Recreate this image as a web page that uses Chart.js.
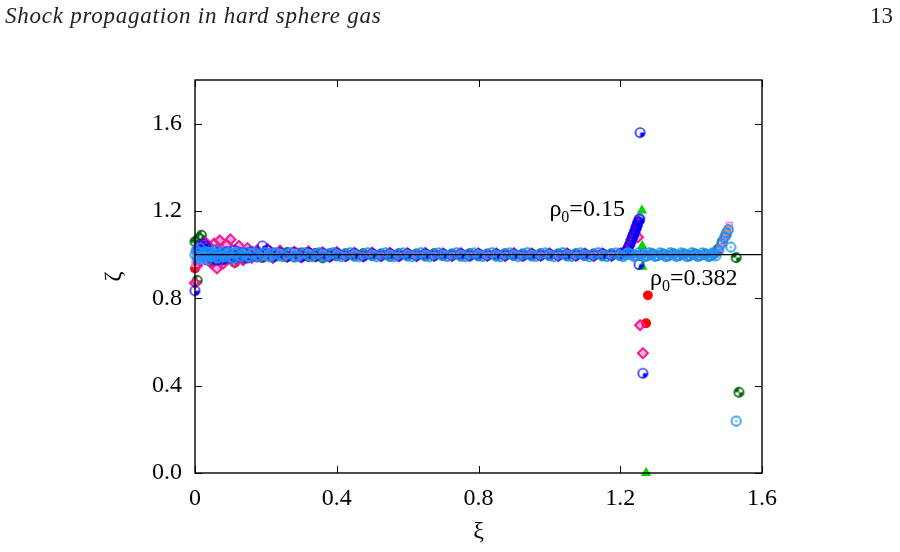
<!DOCTYPE html>
<html><head><meta charset="utf-8">
<script src="https://cdn.jsdelivr.net/npm/chart.js@4"></script>
<style>
html,body{margin:0;padding:0;background:#fff;}
#wrap{position:relative;width:900px;height:552px;overflow:hidden;}
canvas{position:absolute;left:0;top:0;}
#hdr{position:absolute;left:5px;top:3px;font-family:'Liberation Serif',serif;font-style:italic;font-size:23px;letter-spacing:0.75px;color:#222;white-space:nowrap;}
#pg{position:absolute;right:7px;top:3px;font-family:'Liberation Serif',serif;font-size:23px;color:#222;}
</style></head><body>
<div id="wrap"><canvas id="c" width="900" height="552"></canvas><div id="hdr">Shock propagation in hard sphere gas</div><div id="pg">13</div></div>
<script>
// ---------- data ----------
const xTickLabels = ['0','0.4','0.8','1.2','1.6'];
const xTickValues = [0,0.4,0.8,1.2,1.6];
const yTickLabels = ['0.0','0.4','0.8','1.2','1.6'];
const yTickValues = [0,0.4,0.8,1.2,1.6];

const xBand = [0.000,0.006,0.012,0.018,0.024,0.030,0.038,0.046,0.054,0.062,0.070,0.080,0.090,0.100,0.112,0.124,
 0.136,0.148,0.160,0.175,0.190,0.205,0.220,0.240,0.260,0.280,0.300,0.320,0.340,0.360,0.380,0.400,
 0.425,0.450,0.475,0.500,0.525,0.550,0.575,0.600,0.625,0.650,0.675,0.700,0.725,0.750,0.775,0.800,
 0.825,0.850,0.875,0.900,0.925,0.950,0.975,1.000,1.025,1.050,1.075,1.100,1.125,1.150,1.175,1.200,
 1.215];

// rho0 = 0.15 runs
const yBlue15 = [0.835,1.020,1.045,1.030,1.050,1.040,1.010,0.985,1.020,0.975,1.010,0.980,1.015,0.985,1.020,0.990,
 1.010,0.985,1.015,0.990,1.040,1.020,0.990,1.010,0.992,1.012,0.990,1.010,0.993,1.008,0.992,1.008,
 0.994,1.007,0.993,1.006,0.995,1.006,0.994,1.005,0.995,1.005,0.995,1.004,0.996,1.005,0.995,1.004,
 0.996,1.004,0.996,1.004,0.995,1.004,0.996,1.004,0.996,1.004,0.996,1.004,0.996,1.005,0.996,1.005,
 1.015];
const xSpkBlue15 = [1.222,1.226,1.230,1.233,1.236,1.238,1.241,1.243,1.245,1.247,1.249,1.251,1.253,1.255,1.256,1.253,1.264];
const ySpkBlue15 = [1.030,1.045,1.060,1.075,1.085,1.095,1.105,1.115,1.125,1.135,1.145,1.152,1.160,1.165,1.559,0.955,0.457];

const yRed15 = [0.937,0.960,1.020,0.990,1.030,0.975,1.015,0.965,1.000,1.025,0.985,1.010,0.975,1.005,0.990,1.015,
 0.980,1.005,0.992,1.010,0.985,1.005,0.995,1.012,0.988,1.004,1.010,0.990,1.008,0.994,1.006,0.992,
 1.005,0.994,1.006,0.995,1.004,0.993,1.005,0.996,1.004,0.995,1.006,0.995,1.004,0.996,1.005,0.994,
 1.004,0.996,1.005,0.995,1.004,0.996,1.004,0.995,1.005,0.996,1.004,0.995,1.005,0.996,1.004,0.997,
 1.012];
const xSpkRed15 = [1.224,1.236,1.248,1.278,1.273];
const ySpkRed15 = [1.040,1.090,1.140,0.814,0.686];

const yPink15 = [0.870,0.950,1.030,1.045,0.990,1.055,1.040,0.960,1.050,0.937,1.065,0.960,1.045,1.070,0.965,1.040,
 0.975,1.030,0.985,1.020,1.000,1.025,0.985,1.018,0.990,1.012,0.988,1.015,0.992,1.010,0.990,1.012,
 0.993,1.008,0.992,1.009,0.994,1.008,0.993,1.007,0.994,1.008,0.995,1.006,0.994,1.007,0.995,1.006,
 0.995,1.006,0.994,1.007,0.995,1.006,0.995,1.006,0.994,1.006,0.995,1.005,0.994,1.006,0.995,1.006,
 1.020];
const xSpkPink15 = [1.225,1.229,1.232,1.236,1.240,1.243,1.246,1.250,1.252,1.256,1.264];
const ySpkPink15 = [1.040,1.055,1.070,1.085,1.100,1.115,1.130,1.080,1.150,0.677,0.549];

const yGreen15 = [1.066,0.990,1.010,0.975,1.025,0.995,1.000,1.020,0.980,1.005,0.990,1.015,0.985,1.000,1.010,0.985,
 1.005,0.995,1.010,0.985,1.000,1.008,0.982,1.004,0.996,1.008,0.993,1.005,0.986,1.004,0.998,1.006,
 0.994,1.003,0.997,1.005,0.994,1.004,0.996,1.003,0.995,1.005,0.997,1.003,0.995,1.004,0.996,1.003,
 0.995,1.004,0.996,1.003,0.995,1.004,0.996,1.003,0.995,1.004,0.996,1.003,0.995,1.004,0.996,1.004,
 0.992];
const xSpkGreen15 = [1.261,1.262,1.262,1.273];
const ySpkGreen15 = [1.202,1.040,0.945,0.000];

// rho0 = 0.382 runs
const xTail382 = [1.230,1.245,1.260,1.275,1.290,1.305,1.320,1.335,1.350,1.365,1.380,1.395,1.410,1.425,1.440,1.455,1.465];

const yDkGreen382 = [1.060,0.882,1.075,1.089,1.040,0.980,1.020,0.970,1.010,0.985,1.015,0.975,1.005,0.990,0.965,1.010,
 0.985,1.005,0.992,1.012,0.990,1.004,1.008,0.995,1.010,0.990,1.006,0.993,1.005,0.986,1.003,0.996,
 1.004,0.994,1.005,0.996,1.003,0.993,1.004,0.995,1.003,0.994,1.004,0.996,1.003,0.994,1.004,0.995,
 1.003,0.994,1.004,0.996,1.003,0.995,1.004,0.996,1.003,0.995,1.004,0.996,1.003,0.995,1.004,0.996,
 1.003];
const yTailDkGreen382 = [1.004,0.996,1.003,0.995,1.004,0.996,1.003,0.995,1.004,0.996,1.003,0.995,1.004,0.996,1.003,0.995,1.006];
const xSpkDkGreen382 = [1.476,1.488,1.498,1.527,1.535];
const ySpkDkGreen382 = [1.025,1.060,1.090,0.987,0.370];

const yViolet382 = [0.960,1.030,0.985,1.020,0.975,1.015,0.990,1.025,0.980,1.010,0.995,1.020,0.985,1.010,0.990,1.015,
 0.995,1.020,0.990,1.010,0.995,1.008,0.992,1.012,0.994,1.008,0.995,1.006,0.993,1.007,0.995,1.006,
 0.996,1.005,0.994,1.006,0.996,1.005,0.995,1.005,0.996,1.004,0.995,1.005,0.996,1.004,0.995,1.005,
 0.996,1.004,0.995,1.005,0.996,1.004,0.995,1.005,0.996,1.004,0.995,1.005,0.996,1.004,0.995,1.005,
 0.996];
const yTailViolet382 = [0.996,1.004,0.995,1.005,0.996,1.004,0.995,1.005,0.996,1.004,0.995,1.005,0.996,1.004,0.995,1.005,1.008];
const xSpkViolet382 = [1.482,1.490,1.497,1.503,1.508];
const ySpkViolet382 = [1.030,1.060,1.090,1.115,1.134];

const yDodger382 = [1.000,0.990,1.010,0.995,1.005,0.985,1.012,0.992,1.006,0.988,1.008,0.994,1.004,0.990,1.008,0.995,
 1.003,0.992,1.006,0.996,1.002,0.993,1.005,0.997,1.003,0.994,1.004,0.996,1.002,0.995,1.004,0.997,
 1.002,0.995,1.003,0.997,1.002,0.996,1.003,0.997,1.002,0.996,1.003,0.997,1.002,0.996,1.003,0.997,
 1.002,0.996,1.003,0.997,1.002,0.996,1.003,0.997,1.002,0.996,1.003,0.997,1.002,0.996,1.003,0.997,
 1.002];
const yTailDodger382 = [1.002,0.996,1.003,0.997,1.002,0.996,1.003,0.997,1.002,0.996,1.003,0.997,1.002,0.996,1.003,0.997,1.004];
const xSpkDodger382 = [1.478,1.486,1.494,1.500,1.505,1.512,1.527];
const ySpkDodger382 = [1.020,1.050,1.080,1.100,1.115,1.035,0.238];

// second dodger-blue run (rho0 = 0.382)
const xBand2 = [0.003,0.009,0.015,0.021,0.027,0.034,0.042,0.050,0.058,0.066,
 0.075,0.085,0.095,0.106,0.118,0.130,0.142,0.154,0.168,0.183,
 0.198,0.213,0.230,0.250,0.270,0.290,0.310,0.330,0.350,0.370,
 0.390,0.412,0.438,0.462,0.488,0.512,0.538,0.562,0.588,0.612,
 0.638,0.662,0.688,0.712,0.738,0.762,0.788,0.812,0.838,0.862,
 0.888,0.912,0.938,0.962,0.988,1.012,1.038,1.062,1.088,1.112,
 1.138,1.162,1.188,1.208,1.222,1.238,1.252,1.268,1.282,1.298,
 1.312,1.328,1.342,1.358,1.372,1.388,1.402,1.418,1.432,1.448,
 1.460,1.470];
const yDodger382b = [1.020,0.980,1.030,0.990,1.015,0.975,1.010,0.995,1.020,0.985,
 1.012,0.990,1.010,0.982,1.012,0.991,1.012,0.988,1.010,0.991,
 1.010,0.990,1.009,0.991,1.009,0.991,1.009,0.991,1.009,0.991,
 1.009,0.991,1.009,0.991,1.009,0.991,1.009,0.991,1.008,0.991,
 1.009,0.991,1.008,0.992,1.009,0.991,1.008,0.992,1.009,0.991,
 1.008,0.991,1.009,0.992,1.008,0.991,1.009,0.992,1.008,0.991,
 1.009,0.992,1.008,0.991,1.009,0.992,1.008,0.991,1.009,0.992,
 1.008,0.991,1.009,0.992,1.008,0.991,1.009,0.992,1.008,0.992,
 1.008,0.995];

const orangeX382 = [1.496,1.504];
const orangeY382 = [1.100,1.120];

const refLineX = [0, 1.6];
const refLineY = [1, 1];

const labels = [
  {sub:'0', rest:'=0.15', x:1.0, y:1.175},
  {sub:'0', rest:'=0.382', x:1.284, y:0.859}
];

// ---------- helpers ----------
function pts(xs, ys){ return xs.map((x,i)=>({x:x, y:ys[i]})); }
function marker(color, kind, r, lw){
  const s = Math.ceil(2*r + lw + 2);
  const c = document.createElement('canvas'); c.width = s; c.height = s;
  const g = c.getContext('2d'); const cx = s/2, cy = s/2;
  g.strokeStyle = color; g.fillStyle = color; g.lineWidth = lw;
  if (kind === 'quarter') { g.beginPath(); g.moveTo(cx,cy); g.arc(cx,cy,r,0,Math.PI/2); g.closePath(); g.fill(); }
  if (kind === 'half') {
    g.beginPath(); g.moveTo(cx,cy); g.arc(cx,cy,r,0,Math.PI/2); g.closePath(); g.fill();
    g.beginPath(); g.moveTo(cx,cy); g.arc(cx,cy,r,Math.PI,1.5*Math.PI); g.closePath(); g.fill();
  }
  if (kind === 'dot') { g.beginPath(); g.arc(cx,cy,1.1,0,2*Math.PI); g.fill(); }
  g.beginPath(); g.arc(cx,cy,r,0,2*Math.PI); g.stroke();
  return c;
}
const mkBlue = marker('#0000ff','quarter',4.6,1.4);
const mkDk = marker('#006400','half',4.6,1.6);
const mkDodger = marker('#1e90ff','dot',4.6,1.6);

const FONT = "'Liberation Serif', 'Times New Roman', serif";

const frame = {
  id:'frame',
  afterDatasetsDraw(chart){
    const {ctx, chartArea:a, scales:{x, y}} = chart;
    ctx.save();
    ctx.strokeStyle = '#000'; ctx.lineWidth = 1.4;
    ctx.strokeRect(a.left, a.top, a.right - a.left, a.bottom - a.top);
    ctx.lineWidth = 1;
    const L = 7;
    ctx.beginPath();
    xTickValues.forEach(v => { const px = Math.round(x.getPixelForValue(v))+0.5;
      ctx.moveTo(px, a.bottom); ctx.lineTo(px, a.bottom - L);
      ctx.moveTo(px, a.top); ctx.lineTo(px, a.top + L); });
    yTickValues.forEach(v => { const py = Math.round(y.getPixelForValue(v))+0.5;
      ctx.moveTo(a.left, py); ctx.lineTo(a.left + L, py);
      ctx.moveTo(a.right, py); ctx.lineTo(a.right - L, py); });
    ctx.stroke();
    // annotations
    ctx.fillStyle = '#000'; ctx.textBaseline = 'alphabetic'; ctx.textAlign = 'left';
    labels.forEach(l => {
      let px = x.getPixelForValue(l.x), py = y.getPixelForValue(l.y);
      ctx.font = '24px ' + FONT; ctx.fillText('ρ', px, py); px += ctx.measureText('ρ').width;
      ctx.font = '16px ' + FONT; ctx.fillText(l.sub, px, py + 6); px += ctx.measureText(l.sub).width;
      ctx.font = '24px ' + FONT; ctx.fillText(l.rest, px, py);
    });
    ctx.restore();
  }
};

const base = {showLine:false, clip:false, borderWidth:1.4};
const datasets = [
  {data: pts(refLineX, refLineY), showLine:true, pointRadius:0, borderColor:'#000', borderWidth:1.3, clip:false},
  Object.assign({}, base, {data: pts(xBand, yDodger382).concat(pts(xTail382, yTailDodger382), pts(xSpkDodger382, ySpkDodger382)),
    pointStyle: mkDodger, pointRadius:4.6}),
  Object.assign({}, base, {data: pts(xBand2, yDodger382b), pointStyle: mkDodger, pointRadius:4.6}),
  Object.assign({}, base, {data: pts(xBand, yBlue15).concat(pts(xSpkBlue15, ySpkBlue15)),
    pointStyle: mkBlue, pointRadius:4.6}),
  Object.assign({}, base, {data: pts(orangeX382, orangeY382), pointStyle:'crossRot', pointRadius:4, borderColor:'#ff9900', borderWidth:1.5}),
  Object.assign({}, base, {data: pts(xBand, yViolet382).concat(pts(xTail382, yTailViolet382), pts(xSpkViolet382, ySpkViolet382)),
    pointStyle:'rect', pointRadius:4.2, borderColor:'#ee82ee', backgroundColor:'rgba(238,130,238,0.25)', borderWidth:1.5}),
  Object.assign({}, base, {data: pts(xBand, yPink15).concat(pts(xSpkPink15, ySpkPink15)),
    pointStyle:'rectRot', pointRadius:5, borderColor:'#ff1493', backgroundColor:'rgba(255,20,147,0.35)', borderWidth:2}),
  Object.assign({}, base, {data: pts(xBand, yDkGreen382).concat(pts(xTail382, yTailDkGreen382), pts(xSpkDkGreen382, ySpkDkGreen382)),
    pointStyle: mkDk, pointRadius:4.6}),
  Object.assign({}, base, {data: pts(xBand, yRed15).concat(pts(xSpkRed15, ySpkRed15)),
    pointStyle:'circle', pointRadius:4.2, borderColor:'#ff0000', backgroundColor:'#ff0000'}),
  Object.assign({}, base, {data: pts(xBand, yGreen15).concat(pts(xSpkGreen15, ySpkGreen15)),
    pointStyle:'triangle', pointRadius:4.6, borderColor:'#00d000', backgroundColor:'#00e000'})
];

new Chart(document.getElementById('c'), {
  type:'scatter',
  data:{datasets},
  plugins:[frame],
  options:{
    responsive:false, animation:false, events:[],
    layout:{padding:{top:80, right:138, left:0, bottom:0}},
    plugins:{legend:{display:false}, tooltip:{enabled:false}},
    scales:{
      x:{type:'linear', min:0, max:1.6,
        grid:{display:false, drawTicks:false}, border:{display:false},
        afterBuildTicks(s){ s.ticks = xTickValues.map(v=>({value:v})); },
        afterFit(s){ s.height = 79; },
        ticks:{padding:11, color:'#000', font:{family:FONT, size:24}, maxRotation:0,
          callback:(v,i)=>xTickLabels[i]},
        title:{display:true, text:'ξ', color:'#000', font:{family:FONT, size:24}, padding:{top:0, bottom:6}}
      },
      y:{type:'linear', min:0, max:1.8,
        grid:{display:false, drawTicks:false}, border:{display:false},
        afterBuildTicks(s){ s.ticks = yTickValues.map(v=>({value:v})); },
        afterFit(s){ s.width = 195; },
        ticks:{padding:13, color:'#000', font:{family:FONT, size:24},
          callback:(v,i)=>yTickLabels[i]},
        title:{display:true, text:'ζ', color:'#000', font:{family:FONT, size:24}, padding:{top:99, bottom:0}}
      }
    }
  }
});
</script>
</body></html>
